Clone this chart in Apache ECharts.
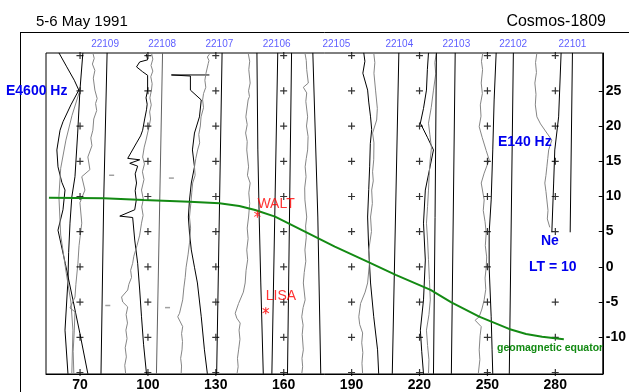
<!DOCTYPE html>
<html><head><meta charset="utf-8">
<script src="https://cdn.jsdelivr.net/npm/echarts@6/dist/echarts.min.js"></script>
<style>html,body{margin:0;padding:0;background:#fff}#c{width:629px;height:392px}</style>
</head><body><div id="c"></div><script>
// ---- axis ticks ----
const xTicks = [70, 100, 130, 160, 190, 220, 250, 280];
const yTicks = [-10, -5, 0, 5, 10, 15, 20, 25];
// ---- orbits ----
const orbitNames = ['22109','22108','22107','22106','22105','22104','22103','22102','22101'];
const orbitLon = [81.1, 106.3, 131.6, 156.9, 183.3, 211.1, 236.3, 261.4, 287.6];
const orbitLabelLat = 31.65;
// ---- reference grid of crosses ----
const crossLon = [70, 100, 130, 160, 190, 220, 250, 280];
const crossLat = [-15, -10, -5, 0, 5, 10, 15, 20, 25, 30];
const dashPts = [[84.0,13.0],[110.4,12.6],[82.3,-5.5],[108.7,-5.8]];
// ---- stations ----
const stationNames = ['WALT', 'LISA'];
const stationPts = [[148.4, 7.46], [152.1, -6.24]];
// ---- geomagnetic equator ----
const equator = [[56.3,9.82],[80.5,9.73],[98.1,9.49],[118.4,9.25],[131.6,9.02],[140.4,8.64],[147.4,8.07],[156.2,7.12],[169.4,4.99],[182.6,2.86],[197.0,0.73],[209.5,-1.16],[224.9,-3.29],[234.1,-5.04],[246.4,-7.09],[259.6,-8.83],[267.1,-9.54],[274.2,-9.93],[279.9,-10.16],[283.8,-10.3]];

// ---- orbit 22109 ----
const o22109_base = [[82.0,30.4],[80.5,9.5],[79.3,-15.2]];
const o22109_a = [[60.7,30.4],[64.0,28.5],[67.5,26.5],[69.5,25.1],[66.0,23.0],[62.5,20.6],[61.2,19.4],[59.8,16.6],[60.3,14.2],[62.0,12.0],[63.4,10.9],[62.5,8.1],[60.3,5.2],[63.5,0.5],[66.9,-4.7],[70.0,-9.5],[73.5,-15.2]];
const o22109_b = [[71.3,30.4],[70.0,25.1],[69.0,19.0],[67.8,12.8],[66.4,9.9],[65.6,6.2],[65.0,2.0],[64.7,-1.9],[63.4,-9.0],[64.7,-15.2]];
const o22109_c = [[75.7,30.4],[76.3,29.6],[75.5,28.8],[76.6,27.9],[75.9,26.8],[76.6,25.1],[77.6,23.9],[76.9,23.2],[77.4,22.2],[76.1,21.0],[75.7,19.4],[74.8,18.3],[75.3,17.2],[73.5,15.6],[74.4,13.8],[70.8,12.8],[72.2,10.9],[70.0,9.1],[70.8,6.2],[69.6,3.0],[69.1,0.5],[68.2,-2.5],[67.8,-4.3],[65.6,-5.85],[67.8,-6.4],[67.5,-9.0],[67.0,-12.0],[67.3,-15.2]];
const o22109_d = [[70.0,25.1],[66.5,21.5],[63.8,18.0],[61.5,14.0],[60.7,10.0],[61.5,4.5],[64.0,-1.0],[66.0,-5.0],[66.9,-9.0],[66.4,-15.2]];
// ---- orbit 22108 ----
const o22108_base = [[106.5,30.4],[103.8,-15.2]];
const o22108_a = [[99.4,30.2],[99.9,29.4],[96.4,29.1],[95.0,28.4],[97.7,27.7],[99.9,27.2],[99.9,25.1],[99.2,24.0],[99.7,23.1],[99.4,22.3],[98.6,21.0],[97.7,19.4],[96.8,18.6],[95.0,17.6],[91.1,15.4],[96.4,15.2],[92.0,14.7],[95.5,14.3],[94.4,13.2],[95.0,11.9],[94.4,10.8],[94.9,9.5],[94.2,8.1],[87.6,7.2],[93.3,7.0],[94.2,3.8],[95.5,0.5],[96.4,-3.3],[97.2,-7.1],[98.1,-11.0],[99.4,-15.2]];
const o22108_b = [[101.6,30.4],[102.2,29.5],[101.4,28.6],[102.2,27.8],[101.3,27.0],[101.9,26.0],[101.6,25.1],[100.9,24.0],[101.5,23.0],[100.8,22.0],[101.2,21.0],[100.6,20.0],[99.9,19.0],[99.2,18.0],[98.4,17.0],[97.7,15.6],[98.5,14.6],[97.6,13.5],[98.3,12.4],[97.2,10.9],[98.0,9.6],[97.3,8.5],[97.9,7.3],[97.2,6.2],[96.4,4.5],[95.2,3.0],[93.8,1.5],[93.3,0.5],[92.4,-0.5],[92.8,-1.5],[91.6,-2.5],[91.1,-3.3],[88.4,-4.3],[88.9,-5.0],[91.1,-5.7],[90.4,-6.8],[91.0,-8.0],[90.3,-9.0],[90.8,-10.2],[90.0,-11.5],[90.5,-12.8],[89.8,-14.0],[90.2,-15.2]];
// ---- orbit 22107 ----
const o22107_base = [[132.8,30.4],[130.4,-15.2]];
const o22107_a = [[127.2,27.25],[110.4,27.25],[118.8,27.1],[118.8,25.1],[123.6,23.7],[122.8,21.3],[120.6,19.0],[119.7,16.6],[120.6,14.2],[119.2,11.9],[118.4,9.5],[117.9,7.07],[118.4,4.8],[119.2,2.4],[120.6,-0.06],[121.9,-2.3],[123.6,-7.1],[125.0,-11.8],[126.3,-15.2]];
const o22107_b = [[127.2,30.2],[126.3,29.8],[127.0,29.3],[126.7,28.9],[125.7,27.5],[125.2,26.5],[125.6,25.5],[124.6,24.6],[124.2,23.7],[124.6,22.6],[123.5,21.3],[123.2,20.0],[122.5,18.8],[122.9,17.6],[122.0,16.6],[121.2,15.4],[120.6,14.2],[120.9,13.0],[119.8,11.9],[119.4,10.5],[119.0,9.0],[118.4,7.07],[118.9,5.5],[118.4,3.4],[117.8,1.8],[116.9,-0.06],[116.5,-1.5],[115.9,-3.0],[115.4,-4.7],[114.0,-6.6],[113.2,-7.1],[115.4,-8.5],[114.9,-9.5],[115.3,-10.6],[115.1,-11.8],[114.5,-13.0],[114.9,-14.1],[114.7,-15.2]];
// ---- orbit 22106 ----
const o22106_base = [[157.4,30.4],[154.8,-15.2]];
const o22106_a = [[148.2,30.4],[148.6,16.6],[149.2,7.07],[149.9,-2.3],[151.0,-15.2]];
const o22106_b = [[144.3,30.4],[145.0,29.2],[144.6,28.0],[145.2,26.1],[144.5,25.0],[144.9,24.2],[144.3,23.7],[143.3,21.3],[143.9,20.2],[143.2,19.0],[143.9,17.8],[143.7,16.6],[144.5,14.2],[144.0,13.0],[145.2,11.9],[144.6,10.5],[145.0,9.0],[144.5,7.07],[143.9,5.5],[144.3,4.0],[143.7,2.4],[144.1,1.0],[143.4,-0.5],[143.0,-2.3],[142.2,-3.6],[140.1,-5.2],[138.6,-6.6],[139.3,-7.3],[140.8,-8.0],[140.3,-9.0],[140.7,-10.3],[140.1,-11.8],[139.6,-13.0],[139.9,-14.2],[139.4,-15.2]];
// ---- orbit 22105 ----
const o22105_base = [[163.5,30.4],[161.7,-15.2]];
const o22105_a = [[172.9,30.4],[175.1,7.07],[176.4,-15.2]];
const o22105_b = [[169.4,30.4],[170.0,29.3],[170.2,28.0],[170.9,26.1],[168.7,25.5],[170.2,24.7],[169.8,23.5],[170.6,21.3],[170.1,20.0],[170.8,18.5],[170.6,16.6],[170.0,15.4],[169.5,14.2],[169.9,12.8],[169.3,11.2],[169.4,9.5],[170.2,7.07],[169.7,5.8],[170.0,4.2],[169.4,2.4],[169.8,0.8],[169.1,-0.8],[168.7,-2.3],[169.5,-4.7],[168.6,-5.8],[168.0,-7.1],[168.6,-8.3],[168.2,-9.6],[168.7,-11.8],[168.1,-13.0],[168.4,-14.2],[168.0,-15.2]];
// ---- orbit 22104 ----
const o22104_base = [[210.9,30.4],[208.0,-15.2]];
const o22104_a = [[195.4,30.4],[195.9,29.2],[195.0,27.5],[197.1,25.1],[197.6,23.4],[198.4,21.3],[198.9,19.5],[198.3,17.5],[198.0,14.2],[197.6,11.0],[197.1,7.07],[197.6,2.4],[198.4,-2.3],[199.8,-7.1],[201.5,-11.8],[202.0,-15.2]];
const o22104_b = [[199.8,30.4],[200.3,29.0],[199.9,27.5],[200.6,25.1],[201.4,22.5],[201.1,20.85],[199.3,19.0],[199.9,17.6],[199.8,15.2],[199.3,13.5],[199.6,12.2],[198.9,10.9],[199.2,9.0],[198.4,7.07],[198.8,5.0],[197.6,2.4],[197.9,0.5],[197.1,-2.3],[196.0,-3.6],[194.0,-5.2],[193.2,-7.1],[193.6,-8.2],[194.9,-9.4],[194.5,-10.8],[195.0,-12.2],[194.6,-13.7],[194.9,-15.2]];
// ---- orbit 22103 ----
const o22103_base = [[235.8,30.4],[234.1,-15.2]];
const o22103_a = [[224.0,30.4],[223.5,28.0],[223.1,25.1],[221.8,22.5],[220.4,20.4],[223.5,18.4],[226.2,16.6],[224.3,13.6],[222.6,10.9],[221.8,6.2],[222.6,0.96],[221.8,-4.7],[220.4,-9.0],[221.0,-12.0],[221.8,-15.2]];
const o22103_b = [[227.5,30.4],[226.8,29.0],[227.2,27.4],[226.2,25.1],[225.2,22.6],[224.0,20.4],[224.6,18.8],[225.3,16.9],[224.7,15.0],[224.3,13.0],[224.0,10.9],[223.6,8.6],[223.1,6.2],[223.6,3.8],[224.0,1.0],[224.4,-1.8],[224.8,-4.7],[224.2,-6.8],[223.1,-9.0],[223.6,-11.2],[224.2,-13.2],[224.0,-15.2]];
const o22103_c = [[227.5,30.4],[226.9,7.0],[226.2,-15.2]];
// ---- orbit 22102 ----
const o22102_base = [[261.5,30.4],[259.7,-15.2]];
const o22102_a = [[253.9,30.4],[253.0,23.7],[252.4,16.6],[251.7,9.5],[250.8,4.8],[250.8,-0.06],[251.7,-7.1],[252.1,-11.8],[252.4,-15.2]];
const o22102_b = [[248.0,30.4],[247.4,29.2],[247.9,28.0],[247.3,26.1],[247.8,24.6],[246.9,23.0],[247.2,21.4],[246.4,19.9],[247.7,18.4],[249.5,16.5],[250.8,15.2],[248.6,13.3],[247.3,11.9],[248.6,9.5],[248.2,8.0],[249.0,6.4],[249.5,4.8],[249.1,3.0],[249.7,1.4],[249.5,-0.06],[249.0,-1.6],[249.3,-3.2],[248.6,-4.7],[247.6,-6.0],[246.4,-7.1],[244.6,-7.6],[247.3,-8.5],[246.8,-9.8],[246.4,-11.8],[246.7,-13.2],[246.0,-15.2]];
// ---- orbit 22101 ----
const o22101_base = [[287.6,30.4],[286.6,4.9]];
const o22101_a = [[282.6,30.4],[281.5,21.3],[279.8,16.6],[279.3,11.9],[278.5,4.9]];
const o22101_b = [[271.9,30.4],[271.3,29.0],[271.7,27.6],[271.0,26.1],[271.5,24.5],[271.2,23.0],[271.9,21.3],[273.5,20.3],[276.3,19.0],[278.5,18.0],[277.1,16.6],[276.7,15.4],[276.3,14.2],[275.9,13.0],[275.4,11.9],[275.9,10.7],[276.3,9.5],[276.8,8.0],[276.5,6.8],[277.6,5.6]];

const BLACK = '#000000', GRAY = '#858585', DARK = '#606060';
const traces = [
  [o22109_base, BLACK], [o22109_a, BLACK], [o22109_b, BLACK], [o22109_c, GRAY], [o22109_d, GRAY],
  [o22108_base, DARK], [o22108_a, BLACK], [o22108_b, GRAY],
  [o22107_base, BLACK], [o22107_a, BLACK], [o22107_b, GRAY],
  [o22106_base, BLACK], [o22106_a, BLACK], [o22106_b, GRAY],
  [o22105_base, BLACK], [o22105_a, BLACK], [o22105_b, GRAY],
  [o22104_base, BLACK], [o22104_a, BLACK], [o22104_b, GRAY],
  [o22103_base, BLACK], [o22103_a, BLACK], [o22103_b, GRAY], [o22103_c, BLACK],
  [o22102_base, BLACK], [o22102_a, BLACK], [o22102_b, GRAY],
  [o22101_base, BLACK], [o22101_a, BLACK], [o22101_b, GRAY]
];

const crosses = [];
crossLon.forEach(x => crossLat.forEach(y => { if (!(x === 280 && y === 0)) crosses.push([x, y]); }));

const FONT = '"Liberation Sans", Arial, sans-serif';
const series = traces.map(([d, c]) => ({
  type: 'line', data: d, symbol: 'none', silent: true, animation: false,
  lineStyle: { color: c, width: 1 }, z: 2
}));
series.push({
  type: 'line', data: equator, symbol: 'none', silent: true, animation: false,
  lineStyle: { color: '#138a13', width: 2 }, z: 4
});
series.push({
  type: 'scatter', data: crosses, silent: true, animation: false, z: 3,
  symbol: 'path://M3,0h1.2v7h-1.2z M0,3h7v1.2h-7z', symbolSize: 7,
  itemStyle: { color: '#000' }
});
series.push({
  type: 'scatter', data: dashPts, silent: true, animation: false, z: 3,
  symbol: 'rect', symbolSize: [5, 1.5], itemStyle: { color: '#888' }
});
series.push({
  type: 'scatter', silent: true, animation: false, z: 5,
  data: stationPts.map((p, i) => ({
    value: p, name: stationNames[i],
    label: { offset: i === 0 ? [0, 0] : [0, -4] }
  })),
  symbol: 'path://M3,0h1v7h-1z M0.3,1.6 L1,0.9 L6.7,5.4 L6,6.1 z M6,0.9 L6.7,1.6 L1,6.1 L0.3,5.4 z',
  symbolSize: 7, itemStyle: { color: '#ff0000' },
  label: { show: true, position: 'top', align: 'left', formatter: '{b}', color: '#ff0000',
    fontFamily: FONT, fontSize: 14, distance: 0 }
});
series.push({
  type: 'scatter', silent: true, animation: false, clip: false, z: 5,
  data: orbitLon.map((x, i) => ({ value: [x, orbitLabelLat], name: orbitNames[i] })),
  symbolSize: 0,
  label: { show: true, position: 'inside', formatter: '{b}', color: '#3333ff',
    fontFamily: FONT, fontSize: 10 }
});

const chart = echarts.init(document.getElementById('c'), null, { renderer: 'canvas' });
chart.setOption({
  animation: false,
  backgroundColor: '#fff',
  grid: { left: 46, right: 23, top: 53, bottom: 18, show: true, borderColor: '#000', borderWidth: 1, backgroundColor: 'transparent' },
  xAxis: {
    type: 'value', min: 55, max: 301,
    axisLine: { show: true, onZero: false, lineStyle: { color: '#000', width: 1 } },
    axisTick: { show: false },
    splitLine: { show: false },
    axisLabel: { customValues: xTicks, color: '#000', fontWeight: 'bold', fontSize: 14, fontFamily: FONT, margin: 4 }
  },
  yAxis: {
    type: 'value', position: 'right', min: -15.23, max: 30.37,
    axisLine: { show: true, onZero: false, lineStyle: { color: '#000', width: 1 } },
    axisTick: { show: true, inside: true, length: 4, customValues: yTicks, lineStyle: { color: '#000' } },
    splitLine: { show: false },
    axisLabel: { customValues: yTicks, color: '#000', fontWeight: 'bold', fontSize: 14, fontFamily: FONT, margin: 3 }
  },
  graphic: [
    { type: 'line', shape: { x1: 20, y1: 32.5, x2: 629, y2: 32.5 }, style: { stroke: '#000', lineWidth: 1 } },
    { type: 'line', shape: { x1: 20.5, y1: 32, x2: 20.5, y2: 392 }, style: { stroke: '#000', lineWidth: 1 } },
    { type: 'text', x: 36, y: 22, style: { text: '5-6 May 1991', font: '15px ' + FONT, fill: '#000', textVerticalAlign: 'middle' } },
    { type: 'text', x: 606, y: 22, style: { text: 'Cosmos-1809', font: '16px ' + FONT, fill: '#000', textAlign: 'right', textVerticalAlign: 'middle' } },
    { type: 'text', x: 6, y: 91, z: 10, style: { text: 'E4600 Hz', font: 'bold 14px ' + FONT, fill: '#0000ee', textVerticalAlign: 'middle' } },
    { type: 'text', x: 498, y: 142, z: 10, style: { text: 'E140 Hz', font: 'bold 14px ' + FONT, fill: '#0000ee', textVerticalAlign: 'middle' } },
    { type: 'text', x: 541, y: 241, z: 10, style: { text: 'Ne', font: 'bold 14px ' + FONT, fill: '#0000ee', textVerticalAlign: 'middle' } },
    { type: 'text', x: 529, y: 267, z: 10, style: { text: 'LT = 10', font: 'bold 14px ' + FONT, fill: '#0000ee', textVerticalAlign: 'middle' } },
    { type: 'text', x: 497, y: 348, z: 10, style: { text: 'geomagnetic equator', font: 'bold 10.5px ' + FONT, fill: '#138a13', textVerticalAlign: 'middle' } }
  ],
  series: series
});
</script></body></html>
